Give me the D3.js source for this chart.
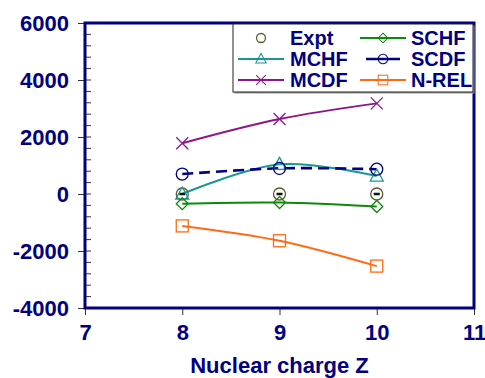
<!DOCTYPE html>
<html>
<head>
<meta charset="utf-8">
<script src="https://cdn.jsdelivr.net/npm/d3@7"></script>
<style>
  body { margin: 0; background: #fff; }
  svg { display: block; font-family: 'Liberation Sans', Arial, sans-serif; }
</style>
</head>
<body>
<svg id="chart" width="485" height="378"></svg>
<script>
// values
const charges = [8, 9, 10];
const expt = [0, 0, 0];
const mchf = [0, 1040, 630];
const mcdf = [1780, 2630, 3180];
const schf = [-340, -300, -440];
const scdf = [700, 900, 870];
const nrel = [-1120, -1640, -2530];
const yTicks = [-4000, -2000, 0, 2000, 4000, 6000];
const xTicks = [7, 8, 9, 10, 11];

const Navy = '#000080';
const margin = { left: 85, top: 23, right: 11, bottom: 70 };
const width = 485 - margin.left - margin.right;
const height = 378 - margin.top - margin.bottom;

const x = d3.scaleLinear().domain([7, 11]).range([0, width]);
const y = d3.scaleLinear().domain([-4000, 6000]).range([height, 0]);

const series = [
  { name: 'Expt', values: expt, color: '#5c5c2e', marker: 'expt', line: false },
  { name: 'MCHF', values: mchf, color: '#1a9696', marker: 'triangle', line: true },
  { name: 'MCDF', values: mcdf, color: '#8c168c', marker: 'cross', line: true },
  { name: 'SCHF', values: schf, color: '#0b8a0b', marker: 'diamond', line: true },
  { name: 'SCDF', values: scdf, color: Navy, marker: 'circle', line: true, dash: '11,6', width: 2.6 },
  { name: 'N-REL', values: nrel, color: '#ff6a14', marker: 'square', line: true }
];

const svg = d3.select('#chart');
const g = svg.append('g').attr('transform', `translate(${margin.left},${margin.top})`);

// minor ticks on the y axis (inside)
g.append('g').selectAll('line')
  .data(d3.range(-4000, 6001, 400))
  .enter().append('line')
    .attr('x1', 0).attr('x2', 6)
    .attr('y1', d => y(d)).attr('y2', d => y(d))
    .attr('stroke', '#333').attr('stroke-width', 1);

const yAxis = g.append('g')
  .call(d3.axisLeft(y).tickValues(yTicks).tickFormat(d => String(d)).tickSize(7).tickPadding(9));
const xAxis = g.append('g')
  .attr('transform', `translate(0,${height})`)
  .call(d3.axisBottom(x).tickValues(xTicks).tickFormat(d => String(d)).tickSize(7).tickPadding(9));

[yAxis, xAxis].forEach(a => {
  a.select('.domain').remove();
  a.selectAll('.tick line').attr('stroke', '#333');
  a.selectAll('.tick text')
    .attr('fill', Navy)
    .style('font-size', '22px')
    .style('font-weight', 'bold')
    .style('font-family', "'Liberation Sans', Arial, sans-serif");
});
yAxis.selectAll('.tick text').attr('dy', '0.36em');

// frame
g.append('rect')
  .attr('width', width).attr('height', height)
  .attr('fill', 'none').attr('stroke', Navy).attr('stroke-width', 3);

const line = d3.line()
  .x((d, i) => x(charges[i]))
  .y(d => y(d))
  .curve(d3.curveCatmullRom.alpha(0));

const drawMarker = (sel, s, cx, cy) => {
  const m = sel.append('g').attr('transform', `translate(${cx},${cy})`);
  const stroke = { fill: 'none', stroke: s.color, 'stroke-width': 1.3 };
  const apply = el => Object.entries(stroke).forEach(([k, v]) => el.attr(k, v));
  switch (s.marker) {
    case 'expt':
      apply(m.append('circle').attr('r', 6));
      m.append('line').attr('x1', -3).attr('x2', 3).attr('stroke', '#111').attr('stroke-width', 2.5);
      break;
    case 'triangle':
      apply(m.append('path').attr('d', 'M0,-7L6.5,5L-6.5,5Z'));
      break;
    case 'cross':
      apply(m.append('path').attr('d', 'M-6,-6L6,6M-6,6L6,-6'));
      break;
    case 'diamond':
      apply(m.append('path').attr('d', 'M0,-6L6,0L0,6L-6,0Z'));
      break;
    case 'circle':
      apply(m.append('circle').attr('r', 6));
      break;
    case 'square':
      apply(m.append('rect').attr('x', -6).attr('y', -6).attr('width', 12).attr('height', 12));
      break;
  }
};

const plot = g.append('g');
series.filter(s => s.line).forEach(s => {
  plot.append('path')
    .datum(s.values)
    .attr('d', line)
    .attr('fill', 'none')
    .attr('stroke', s.color)
    .attr('stroke-width', s.width || 2)
    .attr('stroke-dasharray', s.dash || null);
});
series.forEach(s => {
  s.values.forEach((v, i) => drawMarker(plot, s, x(charges[i]), y(v)));
});

// legend (column-major, three rows)
const legend = svg.append('g').attr('transform', 'translate(233,24)');
legend.append('rect')
  .attr('x', 1.5).attr('y', 1.5).attr('width', 240).attr('height', 68)
  .attr('fill', '#999');
legend.append('rect')
  .attr('width', 240).attr('height', 68)
  .attr('fill', '#fff').attr('stroke', '#222').attr('stroke-width', 1);

const cols = [{ x0: 5, text: 57 }, { x0: 127, text: 178 }];
series.forEach((s, i) => {
  const col = cols[Math.floor(i / 3)];
  const row = i % 3;
  const cy = 14 + row * 21;
  const item = legend.append('g');
  if (s.line) {
    const short = s.dash ? 6 : 0;
    item.append('line')
      .attr('x1', col.x0 + short).attr('x2', col.x0 + 46 - short)
      .attr('y1', cy).attr('y2', cy)
      .attr('stroke', s.color).attr('stroke-width', s.width || 2);
  }
  if (s.marker === 'expt') {
    item.append('circle')
      .attr('cx', col.x0 + 23).attr('cy', cy).attr('r', 4.5)
      .attr('fill', 'none').attr('stroke', s.color).attr('stroke-width', 1.3);
  } else {
    const m = item.append('g').attr('transform', `translate(${col.x0 + 23},${cy}) scale(0.8)`);
    drawMarker(m, s, 0, 0);
  }
  item.append('text')
    .attr('x', col.text).attr('y', cy)
    .attr('dy', '0.36em')
    .attr('fill', Navy)
    .style('font-size', '20px')
    .style('font-weight', 'bold')
    .text(s.name);
});

// axis title
svg.append('text')
  .attr('x', margin.left + width / 2)
  .attr('y', 373)
  .attr('text-anchor', 'middle')
  .attr('fill', Navy)
  .style('font-size', '22px')
  .style('font-weight', 'bold')
  .text('Nuclear charge Z');
</script>
</body>
</html>
